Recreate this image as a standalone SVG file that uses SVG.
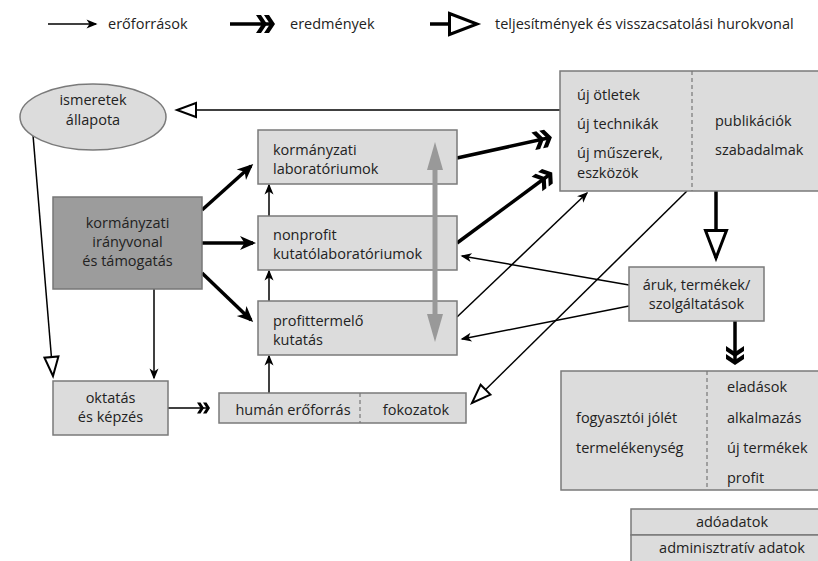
<svg xmlns="http://www.w3.org/2000/svg" width="818" height="561" viewBox="0 0 818 561">
<style>
text{font-family:"Open Sans","Noto Sans","DejaVu Sans",sans-serif;font-size:14.5px;fill:#222}
.box{fill:#dcdcdc;stroke:#7a7a7a;stroke-width:1.5}
.dark{fill:#9c9c9c;stroke:#777;stroke-width:1.5}
.div{stroke:#777;stroke-width:1.2;stroke-dasharray:4 3;fill:none}
.thin{stroke:#000;stroke-width:1.5;fill:none}
.thick{stroke:#000;stroke-width:3.5;fill:none}
.mid{text-anchor:middle}
</style>
<defs>
<marker id="a" markerUnits="userSpaceOnUse" markerWidth="11" markerHeight="9" refX="9.5" refY="4.5" orient="auto" overflow="visible"><path d="M0,0 L11,4.5 L0,9 L3,4.5 Z" fill="#000"/></marker>
<marker id="b" markerUnits="userSpaceOnUse" markerWidth="16" markerHeight="14" refX="13" refY="7" orient="auto" overflow="visible"><path d="M0,0 L16,7 L0,14 L4.5,7 Z" fill="#000"/></marker>
<marker id="d" markerUnits="userSpaceOnUse" markerWidth="20" markerHeight="18" refX="15" refY="9" orient="auto" overflow="visible"><path d="M0,0 L5,0 L11,9 L5,18 L0,18 L6,9 Z M8,0 L13,0 L19,9 L13,18 L8,18 L14,9 Z" fill="#000"/></marker>
<marker id="ds" markerUnits="userSpaceOnUse" markerWidth="14" markerHeight="11" refX="10" refY="5.5" orient="auto" overflow="visible"><path d="M0,0 L3.5,0 L7,5.5 L3.5,11 L0,11 L3.5,5.5 Z M6,0 L9.5,0 L13,5.5 L9.5,11 L6,11 L9.5,5.5 Z" fill="#000"/></marker>
<marker id="h" markerUnits="userSpaceOnUse" markerWidth="22" markerHeight="18" refX="20" refY="8" orient="auto" overflow="visible"><path d="M1,1 L20,8 L1,15 Z" fill="#fff" stroke="#000" stroke-width="2"/></marker>
<marker id="H" markerUnits="userSpaceOnUse" markerWidth="32" markerHeight="26" refX="29" refY="12" orient="auto" overflow="visible"><path d="M1.5,1.5 L29,12 L1.5,22.5 Z" fill="#fff" stroke="#000" stroke-width="3"/></marker>
</defs>

<g id="legend">
<line class="thin" x1="48" y1="24" x2="96" y2="24" marker-end="url(#a)"/>
<text x="108" y="29">erőforrások</text>
<line class="thick" x1="230" y1="24" x2="271" y2="24" marker-end="url(#d)"/>
<text x="290" y="29">eredmények</text>
<line stroke="#000" stroke-width="3.5" x1="430" y1="24" x2="449" y2="24"/>
<path d="M449.5,13.5 L477,24 L449.5,34.5 Z" fill="#fff" stroke="#000" stroke-width="3"/>
<text x="495" y="29">teljesítmények és visszacsatolási hurokvonal</text>
</g>

<g id="connectors">
<line class="thin" x1="560" y1="110" x2="177" y2="110" marker-end="url(#h)"/>
<line class="thin" x1="33" y1="135" x2="53" y2="376" marker-end="url(#h)"/>
<line class="thin" x1="154" y1="289" x2="154" y2="378" marker-end="url(#a)"/>
<line class="thick" x1="202" y1="210" x2="251" y2="166" marker-end="url(#b)"/>
<line class="thick" x1="202" y1="243" x2="253" y2="243" marker-end="url(#b)"/>
<line class="thick" x1="202" y1="273" x2="251" y2="320" marker-end="url(#b)"/>
<line class="thin" x1="269" y1="216" x2="269" y2="185" marker-end="url(#a)"/>
<line class="thin" x1="269" y1="301" x2="269" y2="271" marker-end="url(#a)"/>
<line class="thin" x1="269" y1="393" x2="269" y2="356" marker-end="url(#a)"/>
<line class="thin" x1="168" y1="408" x2="207" y2="408" marker-end="url(#ds)"/>
<line class="thick" x1="457" y1="158" x2="548" y2="138" marker-end="url(#d)"/>
<line class="thick" x1="457" y1="243" x2="549" y2="175" marker-end="url(#d)"/>
<line class="thin" x1="457" y1="317" x2="587" y2="193" marker-end="url(#a)"/>
<line class="thin" x1="687" y1="191" x2="472" y2="403" marker-end="url(#h)"/>
<line stroke="#000" stroke-width="3.5" x1="716" y1="191" x2="716" y2="258" marker-end="url(#H)"/>
<line class="thin" x1="629" y1="285" x2="462" y2="256" marker-end="url(#a)"/>
<line class="thin" x1="629" y1="306" x2="462" y2="339" marker-end="url(#a)"/>
<line stroke="#000" stroke-width="3.5" x1="735" y1="321" x2="735" y2="361" marker-end="url(#d)"/>
</g>

<g id="ismeretek">
<ellipse cx="93" cy="117" rx="73" ry="33" class="box"/>
<text class="mid" x="93" y="105">ismeretek</text>
<text class="mid" x="93" y="125">állapota</text>
</g>

<g id="iranyvonal">
<rect x="53" y="197" width="149" height="92" class="dark"/>
<text class="mid" x="127.5" y="228">kormányzati</text>
<text class="mid" x="127.5" y="247">irányvonal</text>
<text class="mid" x="127.5" y="266">és támogatás</text>
</g>

<g id="kormanyzati-lab">
<rect x="258" y="130" width="199" height="54" class="box"/>
<text x="273" y="155">kormányzati</text>
<text x="273" y="174">laboratóriumok</text>
</g>

<g id="nonprofit">
<rect x="258" y="216" width="199" height="54" class="box"/>
<text x="273" y="240">nonprofit</text>
<text x="273" y="259">kutatólaboratóriumok</text>
</g>

<g id="profit">
<rect x="258" y="301" width="199" height="54" class="box"/>
<text x="273" y="326">profittermelő</text>
<text x="273" y="345">kutatás</text>
</g>

<g id="gray-arrow">
<line x1="435" y1="165" x2="435" y2="319" stroke="#999" stroke-width="5"/>
<path d="M435,142 L443,170 L427,170 Z" fill="#999"/>
<path d="M435,342 L443,314 L427,314 Z" fill="#999"/>
</g>

<g id="eredmenyek">
<rect x="560" y="71" width="270" height="120" class="box"/>
<line x1="692" y1="71" x2="692" y2="191" class="div"/>
<text x="577" y="100">új ötletek</text>
<text x="577" y="129">új technikák</text>
<text x="577" y="158">új műszerek,</text>
<text x="577" y="178">eszközök</text>
<text x="715" y="126">publikációk</text>
<text x="715" y="155">szabadalmak</text>
</g>

<g id="aruk">
<rect x="629" y="267" width="135" height="54" class="box"/>
<text class="mid" x="696.5" y="290">áruk, termékek/</text>
<text class="mid" x="696.5" y="309">szolgáltatások</text>
</g>

<g id="hatasok">
<rect x="561" y="371" width="270" height="119" class="box"/>
<line x1="707" y1="371" x2="707" y2="490" class="div"/>
<text x="576" y="423">fogyasztói jólét</text>
<text x="576" y="453">termelékenység</text>
<text x="727" y="392">eladások</text>
<text x="727" y="423">alkalmazás</text>
<text x="727" y="453">új termékek</text>
<text x="727" y="483">profit</text>
</g>

<g id="oktatas">
<rect x="53" y="381" width="115" height="54" class="box"/>
<text class="mid" x="110.5" y="403">oktatás</text>
<text class="mid" x="110.5" y="422">és képzés</text>
</g>

<g id="human">
<rect x="219" y="393" width="247" height="30" class="box"/>
<line x1="360" y1="393" x2="360" y2="423" class="div"/>
<text class="mid" x="293" y="415">humán erőforrás</text>
<text class="mid" x="416" y="415">fokozatok</text>
</g>

<g id="adatok">
<rect x="631" y="509" width="200" height="26" class="box"/>
<rect x="631" y="535" width="200" height="30" class="box"/>
<text class="mid" x="732" y="527">adóadatok</text>
<text class="mid" x="732" y="553">adminisztratív adatok</text>
</g>
</svg>
